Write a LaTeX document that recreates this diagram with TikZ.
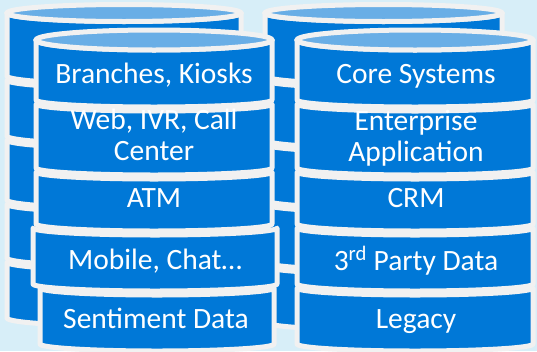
\documentclass[tikz,border=0pt]{standalone}
\usepackage{fontspec}
\setmainfont{Carlito}
\definecolor{canblue}{HTML}{0078D7}
\definecolor{lidblue}{HTML}{69AEE6}
\definecolor{rimgrey}{HTML}{F1F1F1}
\definecolor{skyback}{HTML}{D7EEF8}
\tikzset{
  seg/.style={fill=canblue, draw=rimgrey, line width=5pt, line join=round},
  lid/.style={fill=lidblue, draw=rimgrey, line width=5pt},
  lbl/.style={text=white, font=\fontsize{29.5}{31}\selectfont, anchor=base, inner sep=0pt}
}
% one slice of a cylinder: #1 centre x, #2 half width,
% #3 top edge y, #4 sag of top edge, #5 bottom edge y, #6 sag of bottom edge
\newcommand{\canseg}[6]{%
  \filldraw[seg] ({#1-#2},#3) -- ({#1-#2},#5)
    .. controls ({#1-#2},{#5+0.5523*#6}) and ({#1-0.5523*#2},{#5+#6}) .. (#1,{#5+#6})
    .. controls ({#1+0.5523*#2},{#5+#6}) and ({#1+#2},{#5+0.5523*#6}) .. ({#1+#2},#5)
    -- ({#1+#2},#3)
    .. controls ({#1+#2},{#3+0.5523*#4}) and ({#1+0.5523*#2},{#3+#4}) .. (#1,{#3+#4})
    .. controls ({#1-0.5523*#2},{#3+#4}) and ({#1-#2},{#3+0.5523*#4}) .. ({#1-#2},#3)
    -- cycle;}
\begin{document}
\begin{tikzpicture}[x=1pt,y=-1pt]
  \useasboundingbox (0,0) rectangle (537,351);
  \fill[skyback] (0,0) rectangle (537,351);

  % back left stack
  \canseg{124}{117}{13}{8.5}{76}{8}
  \filldraw[lid] (124,13) ellipse [x radius=117, y radius=8.5];
  \canseg{124}{117}{80}{8}{136}{8}
  \canseg{124}{117}{140}{8}{200}{8}
  \canseg{124}{117}{204}{8}{258}{8}
  \canseg{124}{117}{262}{8}{318}{8}

  % back right stack
  \canseg{383.5}{118.5}{13}{8.5}{76}{8}
  \filldraw[lid] (383.5,13) ellipse [x radius=118.5, y radius=8.5];
  \canseg{383.5}{118.5}{80}{8}{140}{8}
  \canseg{383.5}{118.5}{144}{8}{200}{8}
  \canseg{383.5}{118.5}{204}{8}{262}{8}
  \canseg{383.5}{118.5}{266}{8}{322}{8}

  % front left stack
  \canseg{154}{118}{40}{10}{100}{7}
  \filldraw[lid] (154,40) ellipse [x radius=118, y radius=10];
  \canseg{154}{118}{104}{7}{168}{7}
  \canseg{154}{118}{172}{7}{224}{7}
  \canseg{155}{122}{228}{7}{284}{7}
  \canseg{157}{117}{288}{7}{344}{7}

  % front right stack
  \canseg{415}{118}{40}{10}{100}{7}
  \filldraw[lid] (415,40) ellipse [x radius=118, y radius=10];
  \canseg{415}{118}{104}{7}{168}{7}
  \canseg{415}{118}{172}{7}{224}{7}
  \canseg{415}{118}{228}{7}{284}{7}
  \canseg{415}{118}{288}{7}{344}{7}

  % labels, left
  \node[lbl] (branches) at (154,83) {Branches, Kiosks};
  \node[lbl] (webA) at (154,129) {Web, IVR, Call};
  \node[lbl] (webB) at (154,160) {Center};
  \node[lbl] (atm) at (154,207) {ATM};
  \node[lbl] (mobile) at (155,269) {Mobile, Chat…};
  \node[lbl] (sentiment) at (156,328) {Sentiment Data};

  % labels, right
  \node[lbl] (core) at (416,83) {Core Systems};
  \node[lbl] (entA) at (416,130) {Enterprise};
  \node[lbl] (entB) at (416,161) {Application};
  \node[lbl] (crm) at (416,207) {CRM};
  \node[lbl] (third) at (416,270) {3\textsuperscript{rd} Party Data};
  \node[lbl] (legacy) at (416,328) {Legacy};
\end{tikzpicture}
\end{document}
